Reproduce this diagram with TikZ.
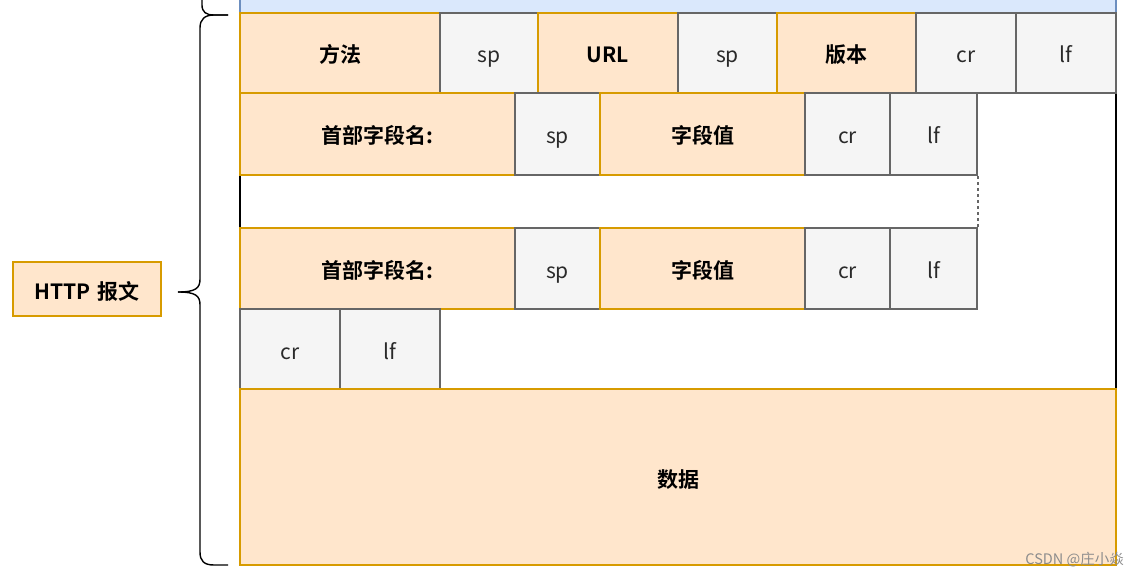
\documentclass[tikz,border=0pt]{standalone}
\usepackage{fontspec}
\setmainfont{Noto Sans CJK SC}[BoldFont={* Bold}]
\definecolor{ofill}{HTML}{FFE6CC}
\definecolor{ostroke}{HTML}{D79B00}
\definecolor{gfill}{HTML}{F5F5F5}
\definecolor{gstroke}{HTML}{666666}
\definecolor{bfill}{HTML}{DAE8FC}
\definecolor{bstroke}{HTML}{6C8EBF}
\definecolor{gtext}{HTML}{2A2A2A}
\tikzset{
  cellbase/.style={line width=2.4pt, inner sep=0pt, text height=20pt, text depth=0pt},
  obox/.style={cellbase, draw=ostroke, fill=ofill, font=\fontsize{21}{24}\selectfont\bfseries, text=black},
  gbox/.style={cellbase, draw=gstroke, fill=gfill, font=\fontsize{21}{24}\selectfont, text=gtext},
  bbox/.style={cellbase, draw=bstroke, fill=bfill},
  bracel/.style={draw=black, line width=1.4pt},
}
\newcommand\mkcell[7]{%
  \node[#6, minimum width={(#4-#2)*1pt}, minimum height={(#5-#3)*1pt}] (#1) at ({(#2+#4)/2},{(#3+#5)/2}) {#7};}
\begin{document}
\begin{tikzpicture}[x=1pt,y=-1pt]
\useasboundingbox (0,0) rectangle (1139,577);
% outer frame
\draw[line width=2.6pt, black] (240,-10) rectangle (1116,565);
% blue top box
\mkcell{top}{240}{-10}{1116}{13}{bbox}{}
% row 1
\mkcell{meth}{240}{13}{440}{93}{obox}{方法}
\mkcell{spa}{440}{13}{538}{93}{gbox}{sp}
\mkcell{url}{538}{13}{678}{93}{obox}{URL}
\mkcell{spb}{678}{13}{777}{93}{gbox}{sp}
\mkcell{ver}{777}{13}{916}{93}{obox}{版本}
\mkcell{cra}{916}{13}{1016}{93}{gbox}{cr}
\mkcell{lfa}{1016}{13}{1116}{93}{gbox}{lf}
% row 2
\mkcell{hna}{240}{93}{515}{175}{obox}{首部字段名:}
\mkcell{spc}{515}{93}{600}{175}{gbox}{sp}
\mkcell{hva}{600}{93}{805}{175}{obox}{字段值}
\mkcell{crb}{805}{93}{890}{175}{gbox}{cr}
\mkcell{lfb}{890}{93}{977}{175}{gbox}{lf}
% row 3
\mkcell{hnb}{240}{228}{515}{309}{obox}{首部字段名:}
\mkcell{spd}{515}{228}{600}{309}{gbox}{sp}
\mkcell{hvb}{600}{228}{805}{309}{obox}{字段值}
\mkcell{crc}{805}{228}{890}{309}{gbox}{cr}
\mkcell{lfc}{890}{228}{977}{309}{gbox}{lf}
% row 4
\mkcell{crd}{240}{309}{340}{389}{gbox}{cr}
\mkcell{lfd}{340}{309}{440}{389}{gbox}{lf}
% data
\mkcell{data}{240}{389}{1116}{565}{obox}{数据}
% dotted continuation
\draw[gstroke, line width=1.6pt, dash pattern=on 3pt off 3pt] (lfb.south east) -- (lfc.north east);
% HTTP label
\mkcell{http}{13}{262}{161}{316}{obox}{HTTP\hspace{0.3em}报文}
% braces
\coordinate (tip) at (178,292);
\coordinate (btop) at (228,15);
\coordinate (bbot) at (228,565);
\coordinate (uptop) at (202,-5);
\draw[bracel] (uptop) -- (202,5) .. controls (202,12) and (206,15) .. (214,15) -- (btop);
\draw[bracel] (btop) -- (214,15) .. controls (205,15) and (200,19) .. (200,28)
  -- (200,279) .. controls (200,288) and (196,292) .. (tip);
\draw[bracel] (tip) .. controls (196,292) and (200,296) .. (200,305)
  -- (200,552) .. controls (200,561) and (204,565) .. (214,565) -- (bbot);
% watermark
\node[anchor=east, text=black!45, font=\fontsize{14.5}{16}\selectfont, inner sep=0pt] (wm) at (1124,560) {CSDN @庄小焱};
\end{tikzpicture}
\end{document}
